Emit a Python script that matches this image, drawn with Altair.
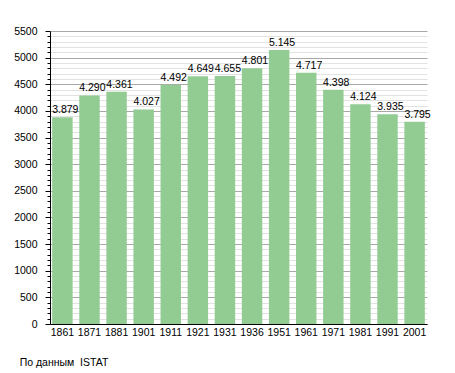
import altair as alt
import pandas as pd

years = ["1861", "1871", "1881", "1901", "1911", "1921", "1931", "1936", "1951", "1961", "1971", "1981", "1991", "2001"]
population = [3879, 4290, 4361, 4027, 4492, 4649, 4655, 4801, 5145, 4717, 4398, 4124, 3935, 3795]
y_ticks = list(range(0, 5501, 100))
source_note = "По данным\u00a0 ISTAT"

df = pd.DataFrame({"year": years, "pop": population})

FONT = "Liberation Sans"

x_scale = alt.Scale(paddingInner=0.245, paddingOuter=0.08)
x_axis = alt.Axis(labelAngle=0, tickSize=0, labelPadding=3, domainColor="black",
                  labelColor="black", labelFont=FONT, labelFontSize=10.5)

y_scale = alt.Scale(domain=[0, 5500], nice=False)
y_axis = alt.Axis(values=y_ticks, format="d",
                  labelExpr="datum.value % 500 === 0 ? datum.label : ''",
                  grid=True,
                  gridColor={"expr": "datum.value % 500 === 0 ? '#a8a8a8' : '#e2e2e2'"},
                  gridWidth=1,
                  tickSize={"expr": "datum.value % 500 === 0 ? 5 : 3"},
                  tickColor="black", domainColor="black",
                  labelPadding=8, labelColor="black", labelFont=FONT, labelFontSize=10.5)

bars = alt.Chart(df).mark_bar(color="#93cc93").encode(
    x=alt.X("year:N", sort=years, title=None, scale=x_scale, axis=x_axis),
    y=alt.Y("pop:Q", scale=y_scale, title=None, axis=y_axis),
)

labels = alt.Chart(df).transform_calculate(
    lbl="replace(format(datum.pop, ','), ',', '.')"
).mark_text(align="left", baseline="bottom", dy=-2, font=FONT, fontSize=10.5, color="black").encode(
    x=alt.X("year:N", sort=years, title=None, scale=x_scale, axis=x_axis, bandPosition=0),
    y=alt.Y("pop:Q", scale=y_scale, title=None, axis=y_axis),
    text="lbl:N",
)

chart = (bars + labels).properties(
    width=377, height=293,
    padding={"left": 42, "top": 23, "right": 20, "bottom": 45},
    autosize=alt.AutoSizeParams(type="none"),
    title=alt.TitleParams(source_note, orient="bottom", anchor="start", font=FONT, fontSize=10.5,
                          fontWeight="normal", color="black", dx=6, offset=20),
).configure_view(stroke=None)

chart.save("out.html", embed_options={"renderer": "svg", "actions": False})
